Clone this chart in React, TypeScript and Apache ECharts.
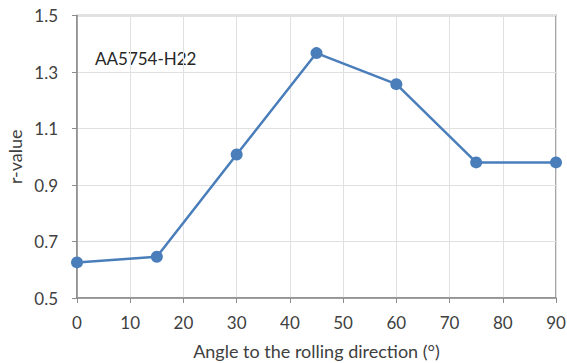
import React, { useEffect, useRef } from "react";
import * as echarts from "echarts";

const angles = [0, 15, 30, 45, 60, 75, 90];
const rValues = [0.626, 0.646, 1.008, 1.367, 1.257, 0.98, 0.98];
const xTitle = "Angle to the rolling direction (°)";
const yTitle = "r-value";
const label = "AA5754-H22";

export default function App() {
  const ref = useRef<HTMLDivElement>(null);
  useEffect(() => {
    const chart = echarts.init(ref.current!, null, { renderer: "svg" });
    const font = "Lato, 'Open Sans', sans-serif";
    chart.setOption({
      animation: false,
      textStyle: { fontFamily: font },
      grid: {
        left: 77,
        right: 11,
        top: 15.5,
        bottom: 65,
        show: true,
        borderColor: "#8c8c8c",
        borderWidth: 1.5,
        outerBoundsMode: "none",
        containLabel: false,
      },
      xAxis: {
        type: "value",
        min: 0,
        max: 90,
        interval: 10,
        name: xTitle,
        nameLocation: "middle",
        nameGap: 44,
        nameMoveOverlap: false,
        nameTextStyle: { color: "#404040", fontSize: 18, fontFamily: font },
        axisLine: { show: true, lineStyle: { color: "#8c8c8c", width: 1.5 } },
        axisTick: { show: true, length: 5, lineStyle: { color: "#8c8c8c" } },
        axisLabel: { color: "#404040", fontSize: 17, margin: 16, fontFamily: font },
        splitLine: { show: true, lineStyle: { color: "#e0e0e0", width: 1 } },
      },
      yAxis: {
        type: "value",
        min: 0.5,
        max: 1.5,
        interval: 0.2,
        name: yTitle,
        nameLocation: "middle",
        nameGap: 53,
        nameMoveOverlap: false,
        nameTextStyle: { color: "#404040", fontSize: 18, fontFamily: font },
        axisLine: { show: true, lineStyle: { color: "#8c8c8c", width: 1.5 } },
        axisTick: { show: true, length: 5, lineStyle: { color: "#8c8c8c" } },
        axisLabel: {
          color: "#404040",
          fontSize: 17,
          margin: 19,
          fontFamily: font,
          formatter: (v: number) => v.toFixed(1),
        },
        splitLine: { show: true, lineStyle: { color: "#e0e0e0", width: 1 } },
      },
      graphic: [
        {
          type: "text",
          left: 95,
          top: 50,
          style: { text: label, fill: "#262626", fontSize: 17, fontFamily: font },
        },
      ],
      series: [
        {
          type: "line",
          data: angles.map((a, i) => [a, rValues[i]]),
          symbol: "circle",
          symbolSize: 12,
          itemStyle: { color: "#4A7EBB" },
          lineStyle: { color: "#4A7EBB", width: 2.5 },
        },
      ],
    });
    return () => chart.dispose();
  }, []);
  return <div ref={ref} style={{ width: 567, height: 363, position: "absolute", left: 0, top: 0 }} />;
}
